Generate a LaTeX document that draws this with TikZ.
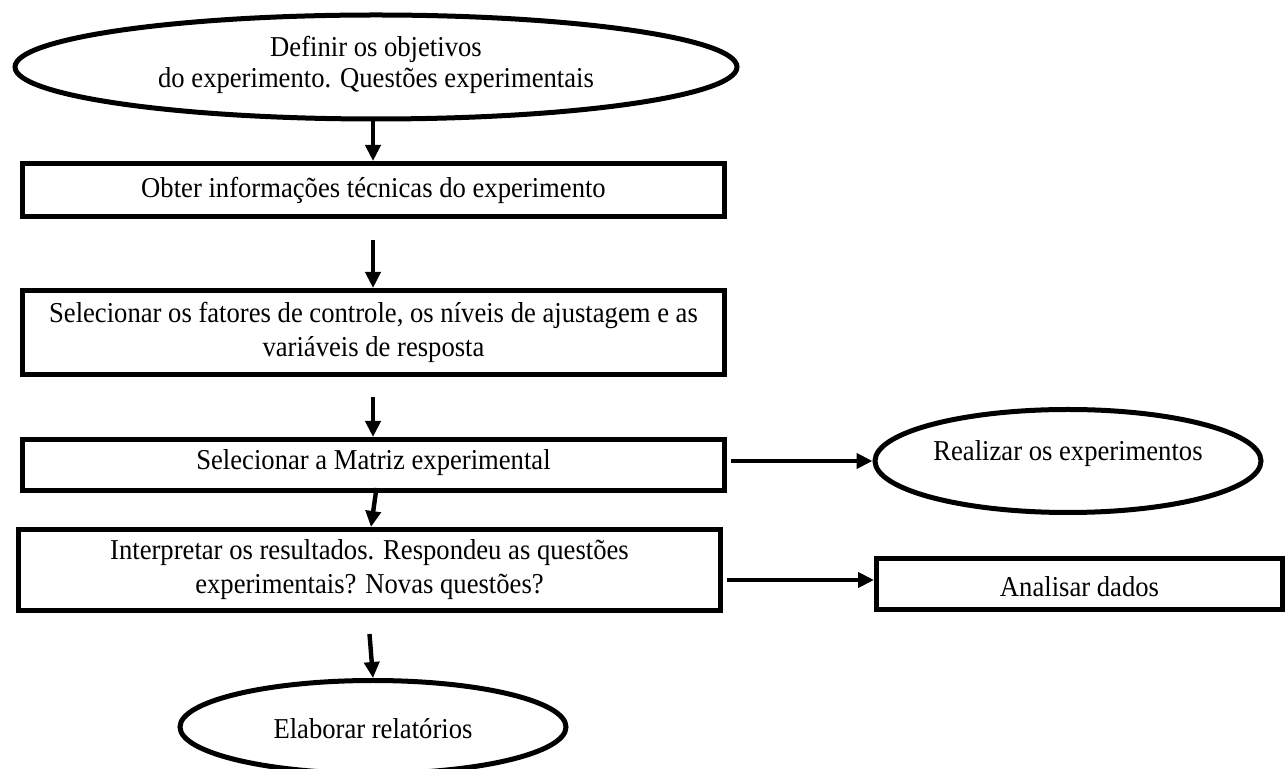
\documentclass[tikz,border=0pt]{standalone}
\usepackage{fontspec}
\setmainfont{Liberation Serif}[FakeStretch=0.925]
\usetikzlibrary{shapes.geometric,arrows.meta}
\tikzset{
  txt/.style={font=\fontsize{14.4pt}{17pt}\selectfont, align=center},
  box/.style={txt, draw, line width=2.5pt, rectangle, inner sep=0pt},
  oval/.style={txt, draw, line width=2.5pt, ellipse, inner sep=0pt},
  arr/.style={line width=2.2pt, -{Triangle[length=8pt,width=7.5pt]}},
}
\begin{document}
\begin{tikzpicture}[x=0.5pt,y=-0.5pt]
\clip (0,0) rectangle (1287,769);
\fill[white] (0,0) rectangle (1287,769);

\node[oval, minimum width=361pt, minimum height=52pt,
      font=\fontsize{14.4pt}{15.5pt}\selectfont] (obj) at (376,67)
  {\raisebox{0.5pt}[\height][\depth]{\begin{tabular}{@{}c@{}}Definir os objetivos\\do experimento. Questões experimentais\end{tabular}}};

\node[box, minimum width=351pt, minimum height=26.5pt] (info) at (373.5,190)
  {Obter informações técnicas do experimento};

\node[box, minimum width=351pt, minimum height=42pt] (fat) at (373.5,332.5)
  {Selecionar os fatores de controle, os níveis de ajustagem e as\\variáveis de resposta};

\node[box, minimum width=351pt, minimum height=25.5pt] (mat) at (373.5,465)
  {\raisebox{1pt}[\height][\depth]{Selecionar a Matriz experimental}};

\node[box, minimum width=351pt, minimum height=40.5pt] (int) at (369.5,570)
  {Interpretar os resultados. Respondeu as questões\\experimentais? Novas questões?};

\node[oval, minimum width=193pt, minimum height=51.5pt] (real) at (1068,461)
  {\raisebox{3.5pt}[\height][\depth]{Realizar os experimentos}};

\node[box, minimum width=203pt, minimum height=25.5pt] (ana) at (1079.5,584)
  {\raisebox{-1.5pt}[\height][\depth]{Analisar dados}};

\node[oval, minimum width=193pt, minimum height=46.5pt] (rel) at (373,727)
  {\raisebox{-1pt}[\height][\depth]{Elaborar relatórios}};

\draw[arr] ([xshift=-1.5pt]obj.south) -- ([xshift=-0.25pt]info.north);
\draw[arr] ([xshift=-0.25pt,yshift=-10.5pt]info.south) -- ([xshift=-0.25pt]fat.north);
\draw[arr] ([xshift=-0.25pt,yshift=-10pt]fat.south) -- ([xshift=-0.25pt]mat.north);
\draw[arr] ([xshift=1.5pt,yshift=2.5pt]mat.south) -- ([xshift=0.75pt]int.north);
\draw[arr] ([yshift=-10.5pt]int.south) -- ([xshift=0pt]rel.north);
\draw[arr] ([xshift=2pt,yshift=2pt]mat.east) -- (real.west);
\draw[arr] ([xshift=2pt,yshift=-5pt]int.east) -- ([yshift=2pt]ana.west);
\end{tikzpicture}
\end{document}
